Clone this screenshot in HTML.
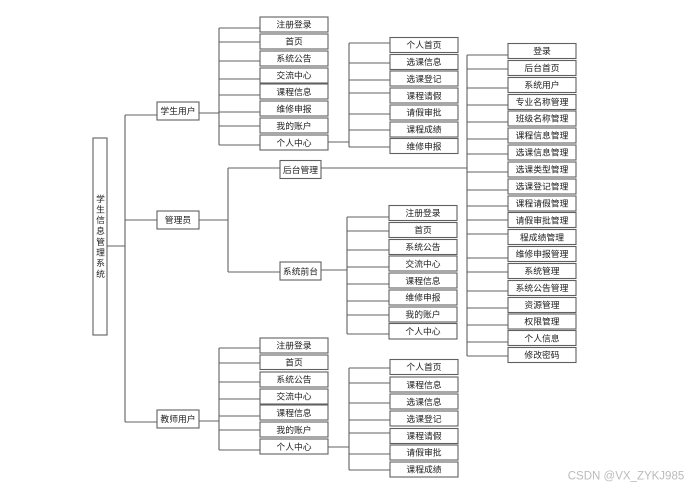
<!DOCTYPE html>
<html><head><meta charset="utf-8"><style>
html,body{margin:0;padding:0;background:#fff;width:692px;height:489px;overflow:hidden}
svg{display:block}
rect{fill:#fff;stroke:#606060;stroke-width:1.1}
path{fill:none;stroke:#606060;stroke-width:1.1}
text{font-family:"Liberation Sans","WenQuanYi Zen Hei","Noto Sans CJK SC",sans-serif;font-size:8.8px;fill:#222;text-anchor:middle}
</style></head><body>
<svg width="692" height="489" viewBox="0 0 692 489" xmlns="http://www.w3.org/2000/svg">
<path d="M107 246H125M125 115V422M125 115H157M125 220H157M125 422H157"/>
<path d="M199 113H219M219 28V145M219 28H260M219 42H260M219 61H260M219 79H260M219 95H260M219 112H260M219 126H260M219 145H260"/>
<path d="M199 220H228M228 168V272M228 168H280M228 272H280"/>
<path d="M199 421H219M219 348V450M219 348H260M219 363H260M219 382H260M219 399H260M219 416H260M219 430H260M219 450H260"/>
<path d="M328 142H349M349 43V147M349 43H390M349 63H390M349 80H390M349 93H390M349 114H390M349 130H390M349 147H390"/>
<path d="M321 270H347M347 217V334M347 217H389M347 231H389M347 250H389M347 267H389M347 284H389M347 301H389M347 315H389M347 334H389"/>
<path d="M328 447H349M349 368V470M349 368H390M349 383H390M349 403H390M349 420H390M349 433H390M349 454H390M349 470H390"/>
<path d="M321 168H467M467 55V356M467 55H508M467 69H508M467 88H508M467 105H508M467 122H508M467 139H508M467 154H508M467 172H508M467 190H508M467 206H508M467 220H508M467 234H508M467 258H508M467 272H508M467 291H508M467 308H508M467 325H508M467 342H508M467 356H508"/>

<rect x="93" y="138" width="14" height="197"/>
<text x="100.5" y="202">学</text><text x="100.5" y="212.500">生</text><text x="100.5" y="223">信</text><text x="100.5" y="234">息</text><text x="100.5" y="245">管</text><text x="100.5" y="255.500">理</text><text x="100.5" y="266">系</text><text x="100.5" y="277">统</text>

<rect x="157" y="102" width="42" height="18"/><text x="178" y="114">学生用户</text>
<rect x="157" y="211" width="42" height="18"/><text x="178" y="223">管理员</text>
<rect x="157" y="410" width="42" height="18"/><text x="178" y="422">教师用户</text>
<rect x="280" y="160.500" width="41" height="18"/><text x="300.500" y="173">后台管理</text>
<rect x="280" y="262" width="41" height="18"/><text x="300.500" y="274.500">系统前台</text>

<rect x="260" y="17" width="68" height="15"/><text x="294" y="27.500">注册登录</text>
<rect x="260" y="34" width="68" height="15"/><text x="294" y="44.500">首页</text>
<rect x="260" y="51" width="68" height="15"/><text x="294" y="61.500">系统公告</text>
<rect x="260" y="68" width="68" height="15"/><text x="294" y="78.500">交流中心</text>
<rect x="260" y="84" width="68" height="15"/><text x="294" y="95">课程信息</text>
<rect x="260" y="101" width="68" height="15"/><text x="294" y="112">维修申报</text>
<rect x="260" y="118" width="68" height="15"/><text x="294" y="129">我的账户</text>
<rect x="260" y="135" width="68" height="15"/><text x="294" y="146">个人中心</text>

<rect x="260" y="338" width="68" height="15"/><text x="294" y="348.500">注册登录</text>
<rect x="260" y="355" width="68" height="14.500"/><text x="294" y="365.500">首页</text>
<rect x="260" y="372" width="68" height="15"/><text x="294" y="382.500">系统公告</text>
<rect x="260" y="389" width="68" height="15"/><text x="294" y="399.500">交流中心</text>
<rect x="260" y="405" width="68" height="15"/><text x="294" y="416">课程信息</text>
<rect x="260" y="422" width="68" height="15"/><text x="294" y="433">我的账户</text>
<rect x="260" y="439" width="68" height="15"/><text x="294" y="450">个人中心</text>

<rect x="390" y="37.500" width="68" height="15"/><text x="424" y="48">个人首页</text>
<rect x="390" y="54.500" width="68" height="15"/><text x="424" y="65">选课信息</text>
<rect x="390" y="71" width="68" height="15"/><text x="424" y="82">选课登记</text>
<rect x="390" y="88" width="68" height="15"/><text x="424" y="99">课程请假</text>
<rect x="390" y="105" width="68" height="15"/><text x="424" y="115.500">请假审批</text>
<rect x="390" y="122" width="68" height="15"/><text x="424" y="132.500">课程成绩</text>
<rect x="390" y="138.500" width="68" height="15"/><text x="424" y="149.500">维修申报</text>

<rect x="389" y="205.500" width="68" height="15"/><text x="423" y="216">注册登录</text>
<rect x="389" y="222.500" width="68" height="15"/><text x="423" y="233">首页</text>
<rect x="389" y="239.500" width="68" height="15"/><text x="423" y="250">系统公告</text>
<rect x="389" y="256" width="68" height="15"/><text x="423" y="267">交流中心</text>
<rect x="389" y="273" width="68" height="15"/><text x="423" y="284">课程信息</text>
<rect x="389" y="290" width="68" height="15"/><text x="423" y="300.500">维修申报</text>
<rect x="389" y="307" width="68" height="15"/><text x="423" y="317.500">我的账户</text>
<rect x="389" y="323.500" width="68" height="15.500"/><text x="423" y="334.500">个人中心</text>

<rect x="390" y="359.500" width="68" height="15"/><text x="424" y="370">个人首页</text>
<rect x="390" y="377" width="68" height="15"/><text x="424" y="388">课程信息</text>
<rect x="390" y="394" width="68" height="15"/><text x="424" y="405">选课信息</text>
<rect x="390" y="411" width="68" height="15"/><text x="424" y="422">选课登记</text>
<rect x="390" y="428.500" width="68" height="15"/><text x="424" y="439">课程请假</text>
<rect x="390" y="445" width="68" height="15"/><text x="424" y="455.500">请假审批</text>
<rect x="390" y="462" width="68" height="15"/><text x="424" y="472.500">课程成绩</text>

<rect x="508" y="43.500" width="68" height="15"/><text x="542" y="54">登录</text>
<rect x="508" y="60.500" width="68" height="15"/><text x="542" y="71">后台首页</text>
<rect x="508" y="77.500" width="68" height="15"/><text x="542" y="88">系统用户</text>
<rect x="508" y="94.500" width="68" height="15"/><text x="542" y="105">专业名称管理</text>
<rect x="508" y="111" width="68" height="15"/><text x="542" y="121.500">班级名称管理</text>
<rect x="508" y="128" width="68" height="15"/><text x="542" y="138.500">课程信息管理</text>
<rect x="508" y="145" width="68" height="15"/><text x="542" y="155.500">选课信息管理</text>
<rect x="508" y="162" width="68" height="15"/><text x="542" y="172.500">选课类型管理</text>
<rect x="508" y="179" width="68" height="15"/><text x="542" y="189.500">选课登记管理</text>
<rect x="508" y="196" width="68" height="15"/><text x="542" y="206.500">课程请假管理</text>
<rect x="508" y="212.500" width="68" height="15"/><text x="542" y="223.500">请假审批管理</text>
<rect x="508" y="229.500" width="68" height="15"/><text x="542" y="240.500">程成绩管理</text>
<rect x="508" y="246.500" width="68" height="15"/><text x="542" y="257">维修申报管理</text>
<rect x="508" y="263.500" width="68" height="15"/><text x="542" y="274">系统管理</text>
<rect x="508" y="280.500" width="68" height="15"/><text x="542" y="291">系统公告管理</text>
<rect x="508" y="297.500" width="68" height="15"/><text x="542" y="308">资源管理</text>
<rect x="508" y="314" width="68" height="15"/><text x="542" y="324.500">权限管理</text>
<rect x="508" y="330.500" width="68" height="15"/><text x="542" y="341.500">个人信息</text>
<rect x="508" y="347.500" width="68" height="15"/><text x="542" y="358">修改密码</text>

<text x="626" y="479.500" style="font-size:11.500px;fill:#bbb">CSDN @VX_ZYKJ985</text>
</svg>
</body></html>
